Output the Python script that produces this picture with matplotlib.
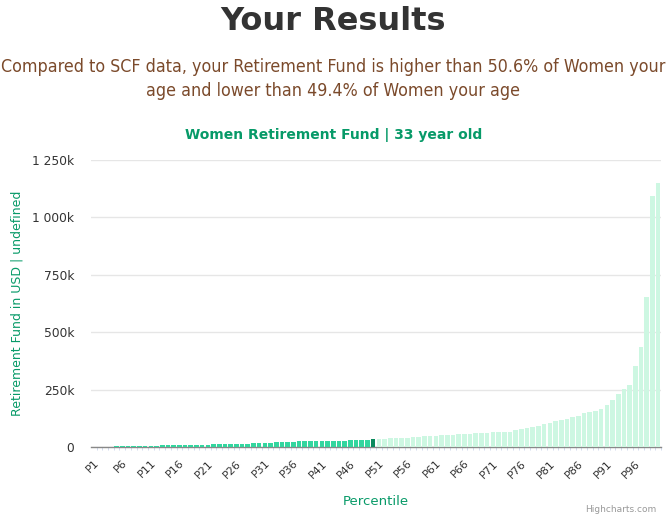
import matplotlib
matplotlib.use("Agg")
import matplotlib.pyplot as plt
import numpy as np

# percentile labels and retirement fund values (thousands USD)
percentiles = [f"P{i}" for i in range(1, 101)]
fund_k = [
    0, 0, 0, 0, 3, 3, 3, 3, 3, 3,
    3, 3, 9, 9, 9, 9, 9, 9, 9, 9,
    9, 12, 12, 12, 12, 12, 15, 15, 18, 18,
    18, 18, 21, 21, 21, 21, 25, 25, 25, 25,
    25, 28, 28, 28, 28, 32, 32, 32, 32, 34,
    34, 34, 38, 40, 40, 40, 45, 45, 48, 48,
    48, 52, 52, 52, 57, 57, 57, 61, 61, 61,
    64, 64, 67, 67, 72, 77, 83, 88, 93, 100,
    106, 115, 119, 123, 131, 136, 147, 152, 158, 164,
    183, 206, 229, 252, 272, 354, 435, 653, 1093, 1150,
]
user_index = 49  # the highlighted bar

ytick_vals = [0, 250, 500, 750, 1000, 1250]
ytick_labels = ["0", "250k", "500k", "750k", "1 000k", "1 250k"]

below = "#33d69f"
mine = "#0b8a5e"
above = "#cdf7e2"
green_text = "#079a68"

colors = [below if i < user_index else (mine if i == user_index else above)
          for i in range(len(fund_k))]

fig = plt.figure(figsize=(6.67, 5.19), dpi=100)
ax = fig.add_axes([91 / 667, 72 / 519, 570 / 667, 287 / 519])

x = np.arange(len(fund_k))
ax.bar(x, fund_k, width=0.82, color=colors, zorder=3)

ax.set_xlim(-0.5, len(fund_k) - 0.5)
ax.set_ylim(0, 1250)
ax.set_yticks(ytick_vals)
ax.set_yticklabels(ytick_labels, fontsize=8.8, color="#333333")
ax.tick_params(axis="y", length=0, pad=12)
ax.grid(axis="y", color="#e6e6e6", linewidth=1, zorder=0)

ax.set_xticks(x[::5])
ax.set_xticklabels(percentiles[::5], rotation=45, ha="right",
                   rotation_mode="anchor", fontsize=8, color="#333333")
ax.tick_params(axis="x", length=0, pad=8)
ax.set_xticks(x + 0.5, minor=True)
ax.tick_params(axis="x", which="minor", length=2, color="#ccd6eb")

for s in ["top", "right", "left"]:
    ax.spines[s].set_visible(False)
ax.spines["bottom"].set_color("#888888")
ax.spines["bottom"].set_linewidth(1)
ax.spines["bottom"].set_zorder(2)

ax.set_xlabel("Percentile", fontsize=9.5, color=green_text, labelpad=11)
fig.text(17 / 667, 1 - 303 / 519, "Retirement Fund in USD | undefined",
         rotation=90, ha="center", va="center", fontsize=9, color=green_text)

# ---- titles ---- #
fig.text(0.5, 1 - 22 / 519, "Your Results", ha="center", va="center",
         fontsize=23, fontweight="bold", color="#333333")
fig.text(0.5, 1 - 67 / 519,
         "Compared to SCF data, your Retirement Fund is higher than 50.6% of Women your",
         ha="center", va="center", fontsize=12.8, color="#7b4a2b",
         fontstretch="condensed")
fig.text(0.5, 1 - 91 / 519, "age and lower than 49.4% of Women your age",
         ha="center", va="center", fontsize=12.8, color="#7b4a2b",
         fontstretch="condensed")
fig.text(0.5, 1 - 135 / 519, "Women Retirement Fund | 33 year old",
         ha="center", va="center", fontsize=10, fontweight="bold",
         color=green_text)
fig.text(656 / 667, 1 - 510 / 519, "Highcharts.com", ha="right", va="center",
         fontsize=6.5, color="#999999")

fig.savefig("out.png", dpi=100)
